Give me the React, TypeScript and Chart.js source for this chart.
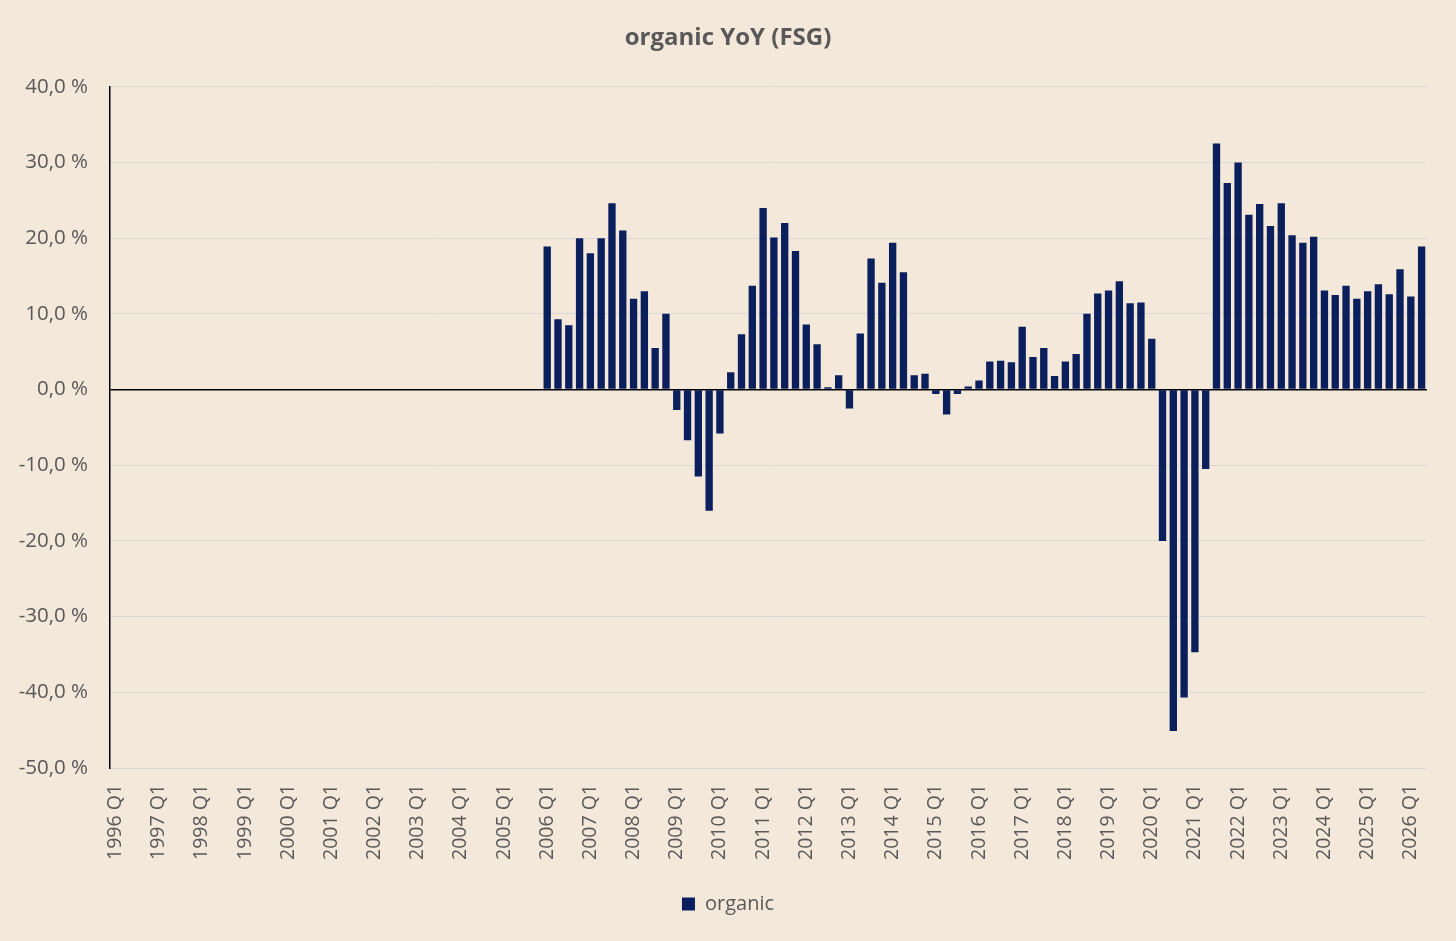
import React, { useEffect, useRef } from 'react';
import { Chart, registerables } from 'chart.js';
Chart.register(...registerables);

// quarterly axis 1996 Q1 .. 2026 Q2
const years = [1996, 1997, 1998, 1999, 2000, 2001, 2002, 2003, 2004, 2005, 2006, 2007, 2008, 2009, 2010,
  2011, 2012, 2013, 2014, 2015, 2016, 2017, 2018, 2019, 2020, 2021, 2022, 2023, 2024, 2025, 2026];
const quarterNames = ['Q1', 'Q2', 'Q3', 'Q4'];
const lastQuarter = '2026 Q2';

// organic YoY growth in %, starting 2006 Q1
const organicStart = '2006 Q1';
const organicValues = [
  18.9, 9.3, 8.5, 20.0,
  18.0, 20.0, 24.6, 21.0,
  12.0, 13.0, 5.5, 10.0,
  -2.7, -6.7, -11.5, -16.0,
  -5.8, 2.3, 7.3, 13.7,
  24.0, 20.1, 22.0, 18.3,
  8.6, 6.0, 0.3, 1.9,
  -2.5, 7.4, 17.3, 14.1,
  19.4, 15.5, 1.9, 2.1,
  -0.6, -3.3, -0.6, 0.4,
  1.2, 3.7, 3.8, 3.6,
  8.3, 4.3, 5.5, 1.8,
  3.7, 4.7, 10.0, 12.7,
  13.1, 14.3, 11.4, 11.5,
  6.7, -20.0, -45.1, -40.7,
  -34.7, -10.5, 32.5, 27.3,
  30.0, 23.1, 24.5, 21.6,
  24.6, 20.4, 19.4, 20.2,
  13.1, 12.5, 13.7, 12.0,
  13.0, 13.9, 12.6, 15.9,
  12.3, 18.9,
];

const categories: string[] = [];
for (const y of years) {
  for (const q of quarterNames) {
    categories.push(`${y} ${q}`);
  }
}
const allCategories = categories.slice(0, categories.indexOf(lastQuarter) + 1);

const BG = '#F3E8DA';
const NAVY = '#0B1F5C';
const TEXT = '#595959';
const FONT = '"Open Sans", sans-serif';

export default function App(): React.ReactElement {
  const canvasRef = useRef<HTMLCanvasElement | null>(null);
  const chartRef = useRef<Chart | null>(null);

  useEffect(() => {
    document.body.style.margin = '0';
    if (!canvasRef.current) return;
    const ctx = canvasRef.current.getContext('2d');
    if (!ctx) return;
    if (chartRef.current) chartRef.current.destroy();

    const startIdx = allCategories.indexOf(organicStart);
    const data = organicValues.map((v, i) => ({ x: allCategories[startIdx + i], y: v }));

    chartRef.current = new Chart(ctx, {
      type: 'bar',
      data: {
        labels: allCategories,
        datasets: [
          {
            label: 'organic',
            data: data as any,
            backgroundColor: NAVY,
            borderColor: NAVY,
            borderWidth: 0,
            barPercentage: 0.68,
            categoryPercentage: 1,
          },
        ],
      },
      options: {
        responsive: false,
        animation: false,
        layout: { padding: { left: 0, right: 0, top: 0, bottom: 17 } },
        plugins: {
          title: {
            display: true,
            text: 'organic YoY (FSG)',
            color: TEXT,
            font: { family: FONT, size: 24, weight: 'bold' },
            padding: { top: 24, bottom: 34 },
          },
          legend: {
            position: 'bottom',
            labels: {
              color: TEXT,
              font: { family: FONT, size: 20 },
              boxWidth: 13,
              boxHeight: 13,
              padding: 10,
            },
          },
          tooltip: { enabled: false },
        },
        scales: {
          x: {
            type: 'category',
            grid: { display: false, drawTicks: false },
            border: { display: false },
            ticks: {
              autoSkip: false,
              minRotation: 90,
              maxRotation: 90,
              padding: 16,
              color: TEXT,
              font: { family: FONT, size: 19.5 },
              callback: function (_v: any, index: number) {
                return index % 4 === 0 ? allCategories[index] : '';
              },
            },
            afterFit: (scale: any) => {
              scale.height = 116;
              scale.paddingLeft = 0;
              scale.paddingRight = 0;
            },
          },
          y: {
            min: -50,
            max: 40,
            grid: {
              drawTicks: false,
              color: (c: any) => (c.tick && c.tick.value === 0 ? '#000000' : '#D9D9D9'),
              lineWidth: (c: any) => (c.tick && c.tick.value === 0 ? 1.5 : 1),
            },
            border: { display: true, color: '#000000', width: 1.5 },
            ticks: {
              stepSize: 10,
              padding: 22,
              color: TEXT,
              font: { family: FONT, size: 20.5 },
              callback: (v: any) => Number(v).toFixed(1).replace('.', ',') + ' %',
            },
            afterFit: (scale: any) => {
              scale.width = 110;
            },
          },
          // empty spacer on the right so the plot ends where the reference does
          spacer: {
            type: 'linear',
            position: 'right',
            grid: { display: false, drawTicks: false },
            border: { display: false },
            ticks: { display: false },
            afterFit: (scale: any) => {
              scale.width = 29;
            },
          },
        },
      },
    });

    return () => {
      if (chartRef.current) {
        chartRef.current.destroy();
        chartRef.current = null;
      }
    };
  }, []);

  return (
    <div style={{ position: 'absolute', left: 0, top: 0, width: 1456, height: 941, background: BG }}>
      <canvas ref={canvasRef} width={1456} height={941} />
    </div>
  );
}
